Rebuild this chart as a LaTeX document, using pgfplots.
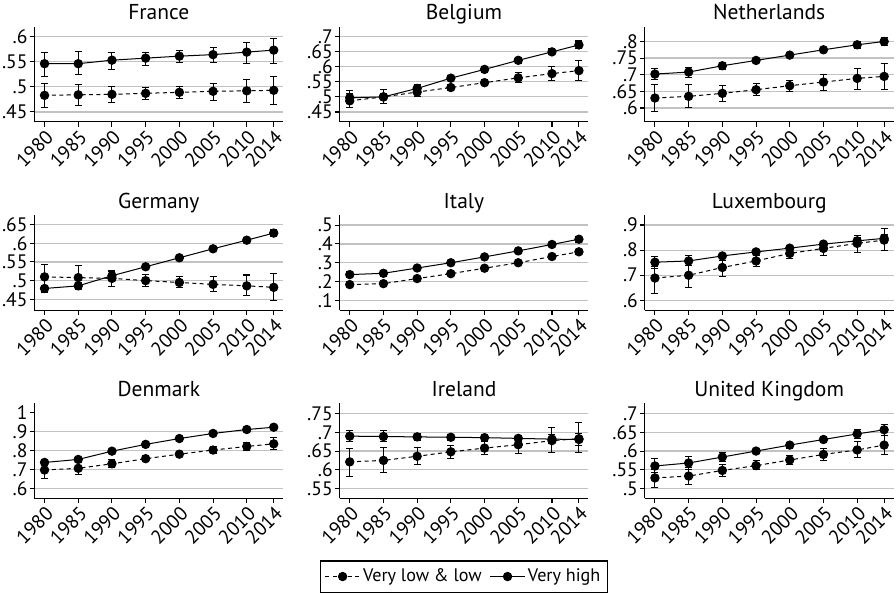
\documentclass[border=0pt]{standalone}
\usepackage{fontspec}
\setmainfont{PT Sans}
\usepackage{pgfplots}
\pgfplotsset{compat=1.18}
\usepackage{pgfplotstable}
\usepgfplotslibrary{groupplots}

% France
\pgfplotstableread[row sep=\\]{x y lo hi\\
1980 .546 .521 .569\\ 1985 .546 .524 .571\\ 1990 .553 .534 .569\\ 1995 .557 .542 .569\\
2000 .561 .549 .573\\ 2005 .564 .549 .579\\ 2010 .569 .547 .588\\ 2014 .573 .547 .597\\}\frHi
\pgfplotstableread[row sep=\\]{x y lo hi\\
1980 .483 .459 .507\\ 1985 .484 .462 .505\\ 1990 .485 .469 .500\\ 1995 .487 .474 .498\\
2000 .489 .477 .500\\ 2005 .491 .473 .507\\ 2010 .492 .469 .515\\ 2014 .493 .465 .521\\}\frLo
% Belgium
\pgfplotstableread[row sep=\\]{x y lo hi\\
1980 .497 .485 .510\\ 1985 .500 .490 .510\\ 1990 .528 .516 .540\\ 1995 .562 .553 .572\\
2000 .591 .582 .599\\ 2005 .621 .612 .629\\ 2010 .649 .639 .659\\ 2014 .672 .660 .685\\}\beHi
\pgfplotstableread[row sep=\\]{x y lo hi\\
1980 .487 .465 .522\\ 1985 .500 .478 .523\\ 1990 .516 .501 .532\\ 1995 .531 .522 .541\\
2000 .547 .538 .556\\ 2005 .563 .546 .580\\ 2010 .577 .554 .600\\ 2014 .587 .553 .620\\}\beLo
% Netherlands
\pgfplotstableread[row sep=\\]{x y lo hi\\
1980 .702 .685 .720\\ 1985 .708 .693 .722\\ 1990 .727 .717 .737\\ 1995 .743 .736 .750\\
2000 .759 .753 .765\\ 2005 .775 .768 .782\\ 2010 .790 .780 .800\\ 2014 .800 .789 .811\\}\nlHi
\pgfplotstableread[row sep=\\]{x y lo hi\\
1980 .630 .590 .670\\ 1985 .635 .600 .670\\ 1990 .644 .620 .669\\ 1995 .655 .638 .673\\
2000 .667 .650 .684\\ 2005 .678 .652 .700\\ 2010 .689 .655 .720\\ 2014 .695 .655 .735\\}\nlLo
% Germany
\pgfplotstableread[row sep=\\]{x y lo hi\\
1980 .479 .467 .487\\ 1985 .486 .477 .496\\ 1990 .513 .503 .525\\ 1995 .537 .532 .543\\
2000 .561 .556 .566\\ 2005 .585 .580 .591\\ 2010 .608 .601 .616\\ 2014 .627 .618 .636\\}\deHi
\pgfplotstableread[row sep=\\]{x y lo hi\\
1980 .510 .479 .544\\ 1985 .508 .479 .540\\ 1990 .506 .483 .528\\ 1995 .500 .485 .516\\
2000 .495 .481 .511\\ 2005 .490 .471 .510\\ 2010 .486 .461 .515\\ 2014 .482 .448 .518\\}\deLo
% Italy
\pgfplotstableread[row sep=\\]{x y lo hi\\
1980 .237 .222 .252\\ 1985 .244 .229 .258\\ 1990 .272 .265 .279\\ 1995 .300 .293 .306\\
2000 .331 .325 .337\\ 2005 .363 .356 .370\\ 2010 .397 .386 .409\\ 2014 .425 .410 .440\\}\itHi
\pgfplotstableread[row sep=\\]{x y lo hi\\
1980 .184 .172 .196\\ 1985 .189 .180 .198\\ 1990 .216 .209 .223\\ 1995 .242 .236 .248\\
2000 .271 .265 .277\\ 2005 .300 .293 .306\\ 2010 .333 .322 .344\\ 2014 .358 .345 .370\\}\itLo
% Luxembourg
\pgfplotstableread[row sep=\\]{x y lo hi\\
1980 .752 .728 .776\\ 1985 .757 .737 .777\\ 1990 .777 .767 .787\\ 1995 .793 .786 .800\\
2000 .808 .801 .815\\ 2005 .824 .815 .833\\ 2010 .837 .825 .850\\ 2014 .847 .830 .862\\}\luHi
\pgfplotstableread[row sep=\\]{x y lo hi\\
1980 .689 .627 .733\\ 1985 .700 .650 .738\\ 1990 .731 .697 .760\\ 1995 .757 .735 .778\\
2000 .787 .767 .805\\ 2005 .807 .779 .820\\ 2010 .827 .790 .860\\ 2014 .840 .800 .887\\}\luLo
% Denmark
\pgfplotstableread[row sep=\\]{x y lo hi\\
1980 .737 .728 .746\\ 1985 .753 .746 .760\\ 1990 .797 .791 .803\\ 1995 .833 .827 .839\\
2000 .864 .858 .870\\ 2005 .891 .885 .897\\ 2010 .912 .906 .918\\ 2014 .924 .918 .930\\}\dkHi
\pgfplotstableread[row sep=\\]{x y lo hi\\
1980 .697 .653 .730\\ 1985 .706 .672 .738\\ 1990 .730 .710 .753\\ 1995 .757 .742 .772\\
2000 .781 .770 .793\\ 2005 .803 .785 .820\\ 2010 .822 .800 .843\\ 2014 .836 .808 .867\\}\dkLo
% Ireland
\pgfplotstableread[row sep=\\]{x y lo hi\\
1980 .690 .676 .706\\ 1985 .689 .675 .704\\ 1990 .688 .679 .697\\ 1995 .687 .679 .695\\
2000 .686 .678 .694\\ 2005 .684 .675 .693\\ 2010 .682 .670 .695\\ 2014 .681 .665 .697\\}\ieHi
\pgfplotstableread[row sep=\\]{x y lo hi\\
1980 .621 .583 .658\\ 1985 .625 .593 .660\\ 1990 .636 .613 .660\\ 1995 .648 .630 .666\\
2000 .658 .640 .675\\ 2005 .667 .643 .690\\ 2010 .678 .645 .712\\ 2014 .683 .645 .727\\}\ieLo
% United Kingdom
\pgfplotstableread[row sep=\\]{x y lo hi\\
1980 .560 .542 .579\\ 1985 .568 .550 .585\\ 1990 .584 .572 .596\\ 1995 .600 .593 .608\\
2000 .616 .608 .624\\ 2005 .631 .622 .640\\ 2010 .646 .634 .659\\ 2014 .657 .642 .672\\}\ukHi
\pgfplotstableread[row sep=\\]{x y lo hi\\
1980 .528 .502 .550\\ 1985 .533 .510 .556\\ 1990 .548 .531 .565\\ 1995 .561 .550 .574\\
2000 .576 .564 .589\\ 2005 .591 .575 .607\\ 2010 .603 .582 .625\\ 2014 .616 .590 .642\\}\ukLo

\pgfplotsset{
  every axis title shift=0pt,
  panel/.style={
    scale only axis, width=185pt, height=71pt,
    xmin=1978.5, xmax=2015.4,
    axis x line*=bottom, axis y line*=left,
    axis line style={-, line width=0.8pt},
    tick align=outside, major tick length=3.5pt,
    tick style={black, line width=0.8pt},
    xtick={1980,1985,1990,1995,2000,2005,2010,2014},
    xticklabels={1980,1985,1990,1995,2000,2005,2010,2014},
    xticklabel style={rotate=45, anchor=north east, inner sep=1pt},
    yticklabel style={inner sep=1.5pt},
    ymajorgrids, grid style={black!24, line width=0.9pt},
    tick label style={font=\fontsize{14.5}{16}\selectfont},
    title style={font=\fontsize{16}{19}\selectfont, at={(0.5,1)}, anchor=base, yshift=5pt},
  },
  hi/.style={black, solid, line width=0.75pt, mark=*, mark size=3.1pt,
    error bars/.cd, y dir=both, y explicit,
    error bar style={solid, line width=0.75pt},
    error mark options={rotate=90, solid, mark size=2.6pt, line width=0.75pt}},
  lo/.style={black, dash pattern=on 3pt off 2.5pt, line width=0.75pt, mark=*, mark size=3.1pt,
    mark options={solid},
    error bars/.cd, y dir=both, y explicit,
    error bar style={solid, line width=0.75pt},
    error mark options={rotate=90, solid, mark size=2.6pt, line width=0.75pt}},
}
\newcommand{\ser}[2]{\addplot[#1] table[x=x, y=y, y error plus expr=\thisrow{hi}-\thisrow{y}, y error minus expr=\thisrow{y}-\thisrow{lo}] {#2};}

\begin{document}
\begin{tikzpicture}
\begin{groupplot}[group style={group size=3 by 3, horizontal sep=42pt, vertical sep=69pt}, panel]
\nextgroupplot[title=France, ymin=.43, ymax=.62, ytick={.45,.5,.55,.6}, yticklabels={.45,.5,.55,.6}]
\ser{lo}{\frLo}
\ser{hi}{\frHi}
\nextgroupplot[title=Belgium, ymin=.417, ymax=.733, ytick={.45,.5,.55,.6,.65,.7}, yticklabels={.45,.5,.55,.6,.65,.7}]
\ser{lo}{\beLo}
\ser{hi}{\beHi}
\nextgroupplot[title=Netherlands, ymin=.558, ymax=.845, ytick={.6,.65,.7,.75,.8}, yticklabels={.6,.65,.7,.75,.8}]
\ser{lo}{\nlLo}
\ser{hi}{\nlHi}
\nextgroupplot[title=Germany, ymin=.421, ymax=.676, ytick={.45,.5,.55,.6,.65}, yticklabels={.45,.5,.55,.6,.65}]
\ser{lo}{\deLo}
\ser{hi}{\deHi}
\nextgroupplot[title=Italy, ymin=.048, ymax=.555, ytick={.1,.2,.3,.4,.5}, yticklabels={.1,.2,.3,.4,.5}]
\ser{lo}{\itLo}
\ser{hi}{\itHi}
\nextgroupplot[title=Luxembourg, ymin=.561, ymax=.941, ytick={.6,.7,.8,.9}, yticklabels={.6,.7,.8,.9}]
\ser{lo}{\luLo}
\ser{hi}{\luHi}
\nextgroupplot[title=Denmark, ymin=.546, ymax=1.053, ytick={.6,.7,.8,.9}, yticklabels={.6,.7,.8,.9},
  extra y ticks={1}, extra y tick labels={1}, extra y tick style={ymajorgrids=false}]
\ser{lo}{\dkLo}
\ser{hi}{\dkHi}
\nextgroupplot[title=Ireland, ymin=.523, ymax=.779, ytick={.55,.6,.65,.7,.75}, yticklabels={.55,.6,.65,.7,.75},
  legend style={at={(0.5,-0.65)}, anchor=north, legend columns=2, draw=black, line width=0.8pt,
    font=\fontsize{13.5}{16}\selectfont, inner xsep=3pt, inner ysep=4pt,
    /tikz/every even column/.append style={column sep=4pt}},
  legend image code/.code={\draw[#1, mark repeat=2, mark phase=2, error bars/draw error bar/.code={}] plot coordinates {(0cm,0cm) (0.45cm,0cm) (0.9cm,0cm)};}]
\ser{lo}{\ieLo}
\ser{hi}{\ieHi}
\legend{Very low \& low, Very high}
\nextgroupplot[title=United Kingdom, ymin=.473, ymax=.729, ytick={.5,.55,.6,.65,.7}, yticklabels={.5,.55,.6,.65,.7}]
\ser{lo}{\ukLo}
\ser{hi}{\ukHi}
\end{groupplot}
\end{tikzpicture}
\end{document}
